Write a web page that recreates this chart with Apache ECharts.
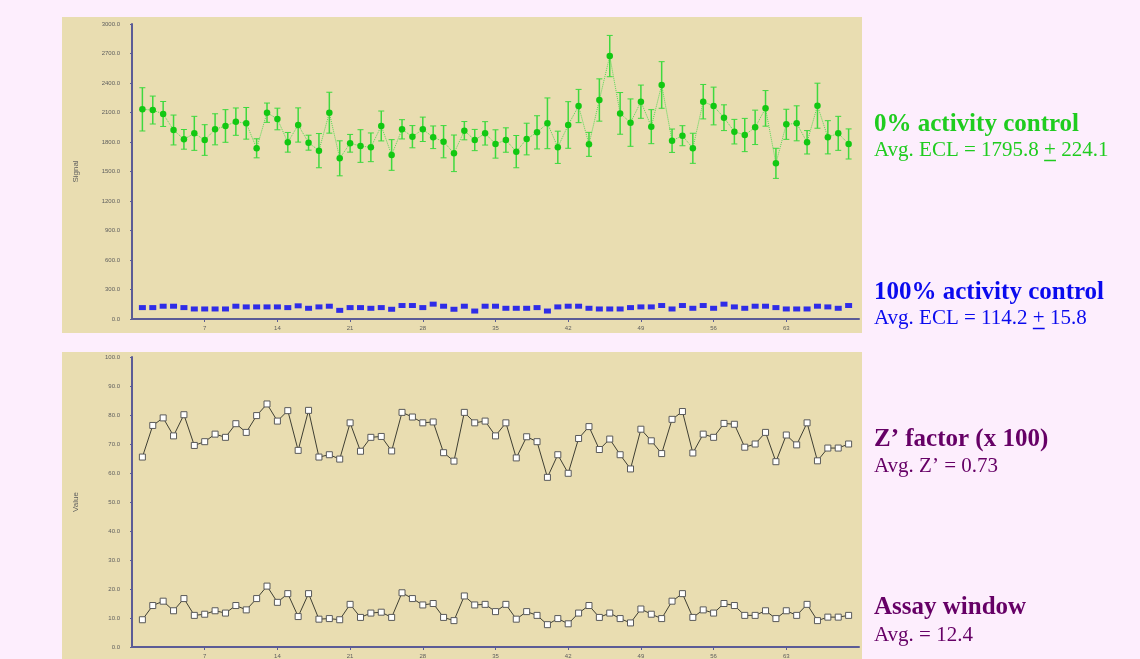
<!DOCTYPE html>
<html>
<head>
<meta charset="utf-8">
<script src="https://cdn.jsdelivr.net/npm/echarts@6/dist/echarts.min.js"></script>
<style>
html,body{margin:0;padding:0;background:#FDEEFD;}
#c{width:1140px;height:659px;}
</style>
</head>
<body>
<div id="c"></div>
<script>
// ---- data ----
var wells = [1,2,3,4,5,6,7,8,9,10,11,12,13,14,15,16,17,18,19,20,21,22,23,24,25,26,27,28,29,30,31,32,33,34,35,36,37,38,39,40,41,42,43,44,45,46,47,48,49,50,51,52,53,54,55,56,57,58,59,60,61,62,63,64,65,66,67,68,69];
var ctrl0 = [2132,2125,2085,1922,1827,1888,1820,1929,1963,2007,1990,1736,2098,2034,1797,1973,1793,1712,2098,1634,1787,1759,1746,1963,1668,1929,1854,1929,1848,1803,1685,1915,1820,1888,1780,1820,1702,1830,1898,1990,1746,1973,2166,1776,2227,2674,2091,1997,2210,1956,2380,1813,1864,1736,2210,2166,2047,1905,1871,1949,2142,1583,1980,1990,1797,2169,1848,1888,1780];
var ctrl0Err = [220,142,127,152,100,173,156,158,166,139,161,97,98,110,100,174,76,174,208,178,90,166,146,152,156,98,113,124,115,164,186,93,108,119,144,124,164,161,169,258,164,237,169,122,215,210,212,241,169,173,237,119,102,153,175,192,131,125,169,175,181,153,153,178,119,229,169,173,153];
var ctrl100 = [116,116,130,130,116,102,102,102,102,130,123,123,123,123,116,134,109,123,130,88,116,116,109,116,99,137,137,116,151,130,99,130,81,130,130,109,109,109,116,81,123,130,130,109,102,102,102,116,123,123,137,102,137,109,137,109,151,123,109,130,130,116,102,102,102,130,123,109,137];
var zFactor = [65.5,76.4,79.0,72.8,80.1,69.5,70.8,73.4,72.3,77.0,74.0,79.8,83.8,77.9,81.5,67.8,81.6,65.5,66.3,64.8,77.3,67.5,72.3,72.6,67.6,80.9,79.3,77.3,77.6,67.0,64.1,80.9,77.3,77.9,72.8,77.3,65.2,72.5,70.8,58.5,66.3,59.9,71.9,76.0,68.1,71.7,66.3,61.4,75.1,71.1,66.7,78.5,81.2,66.9,73.4,72.3,77.1,76.8,68.9,70.0,74.0,63.9,73.1,69.7,77.3,64.2,68.6,68.6,70.0];
var assayWindow = [9.4,14.3,15.8,12.5,16.7,10.9,11.3,12.5,11.7,14.3,12.8,16.7,21.0,15.4,18.4,10.5,18.4,9.6,9.8,9.4,14.7,10.2,11.7,12.0,10.2,18.7,16.7,14.5,15.0,10.2,9.1,17.6,14.5,14.7,12.2,14.7,9.6,12.2,10.9,7.7,9.8,8.0,11.7,14.3,10.2,11.7,9.8,8.3,13.1,11.3,9.8,15.8,18.4,10.2,12.8,11.7,15.0,14.3,10.9,10.9,12.5,9.8,12.5,10.9,14.7,9.1,10.3,10.3,10.9];
var xTicks = {min:0, max:70, interval:7};
var yTop = {min:0, max:3000, interval:300, name:'Signal'};
var yBottom = {min:0, max:100, interval:10, name:'Value'};
var labels = [
  {text:'0% activity control', bold:true, color:'#1FCC1F', y:125},
  {text:'Avg. ECL = 1795.8 + 224.1', bold:false, color:'#1FCC1F', y:150.5, ul:'Avg. ECL = 1795.8 '},
  {text:'100% activity control', bold:true, color:'#0A0AEE', y:293},
  {text:'Avg. ECL = 114.2 + 15.8', bold:false, color:'#0A0AEE', y:318.5, ul:'Avg. ECL = 114.2 '},
  {text:'Z\u2019 factor (x 100)', bold:true, color:'#660066', y:440},
  {text:'Avg. Z\u2019 = 0.73', bold:false, color:'#660066', y:466.5},
  {text:'Assay window', bold:true, color:'#660066', y:608},
  {text:'Avg. = 12.4', bold:false, color:'#660066', y:635.5}
];

// ---- build ----
function pairs(vals){ return vals.map(function(v,i){ return [wells[i], v]; }); }
var errData = ctrl0.map(function(v,i){ return [wells[i], v, ctrl0Err[i]]; });

var serif = '"Liberation Serif","Times New Roman",serif';
var axisColor = '#5B5B96';
var lblColor = '#5e5e5e';

function xAxisCfg(gi){
  return {type:'value', gridIndex:gi, min:xTicks.min, max:xTicks.max, interval:xTicks.interval,
    axisLine:{lineStyle:{color:axisColor, width:2}},
    axisTick:{length:3, lineStyle:{color:axisColor}},
    axisLabel:{fontSize:6, color:lblColor, margin:6, showMinLabel:false, showMaxLabel:false},
    splitLine:{show:false}};
}
function yAxisCfg(gi, c){
  return {type:'value', gridIndex:gi, min:c.min, max:c.max, interval:c.interval,
    name:c.name, nameLocation:'middle', nameGap:52, nameRotate:90,
    nameTextStyle:{fontSize:8, color:lblColor},
    axisLine:{show:true, lineStyle:{color:axisColor, width:2}},
    axisTick:{show:true, length:2, lineStyle:{color:axisColor}},
    axisLabel:{fontSize:6, color:lblColor, margin:12, formatter:function(v){return v.toFixed(1);}},
    splitLine:{show:false}};
}

var graphics = [
  {type:'rect', shape:{x:62, y:17, width:800, height:316}, style:{fill:'#E9DDB1'}, z:-10},
  {type:'rect', shape:{x:62, y:352, width:800, height:320}, style:{fill:'#E9DDB1'}, z:-10}
];
var mctx = document.createElement('canvas').getContext('2d');
labels.forEach(function(l){
  var font = (l.bold ? 'bold ' : '') + (l.bold ? 25 : 21) + 'px ' + serif;
  graphics.push({type:'text', x:874, y:l.y, style:{text:l.text, font:font, fill:l.color, verticalAlign:'middle', align:'left'}});
  if (l.ul){
    mctx.font = font;
    var x0 = 874 + mctx.measureText(l.ul).width;
    var w = mctx.measureText('+').width;
    graphics.push({type:'line', shape:{x1:x0, y1:l.y+10, x2:x0+w, y2:l.y+10}, style:{stroke:l.color, lineWidth:1.5}});
  }
});

var chart = echarts.init(document.getElementById('c'));
chart.setOption({
  backgroundColor:'#FDEEFD',
  animation:false,
  grid:[
    {left:132, top:24, width:727, height:295},
    {left:132, top:357, width:727, height:296}
  ],
  xAxis:[xAxisCfg(0), xAxisCfg(1)],
  yAxis:[yAxisCfg(0, yTop), yAxisCfg(1, yBottom)],
  graphic:graphics,
  series:[
    {type:'custom', xAxisIndex:0, yAxisIndex:0, data:errData, encode:{x:0, y:1}, z:2,
      renderItem:function(params, api){
        var x = api.value(0), v = api.value(1), e = api.value(2);
        var hi = api.coord([x, v + e]), lo = api.coord([x, v - e]);
        var c = '#3ED93E', w = 3;
        return {type:'group', children:[
          {type:'line', shape:{x1:hi[0], y1:hi[1], x2:lo[0], y2:lo[1]}, style:{stroke:c, lineWidth:1.5}},
          {type:'line', shape:{x1:hi[0]-w, y1:hi[1], x2:hi[0]+w, y2:hi[1]}, style:{stroke:c, lineWidth:1}},
          {type:'line', shape:{x1:lo[0]-w, y1:lo[1], x2:lo[0]+w, y2:lo[1]}, style:{stroke:c, lineWidth:1}}
        ]};
      }},
    {type:'line', xAxisIndex:0, yAxisIndex:0, data:pairs(ctrl0), z:3,
      symbol:'circle', symbolSize:6.5, itemStyle:{color:'#12C812'},
      lineStyle:{color:'#55D855', width:1, type:'dotted'}},
    {type:'scatter', xAxisIndex:0, yAxisIndex:0, data:pairs(ctrl100), z:3,
      symbol:'rect', symbolSize:[7,5], itemStyle:{color:'#0000F5'}},
    {type:'line', xAxisIndex:1, yAxisIndex:1, data:pairs(zFactor), z:3,
      symbol:'rect', symbolSize:6, showAllSymbol:true,
      itemStyle:{color:'#ffffff', borderColor:'#5a5a5a', borderWidth:1},
      lineStyle:{color:'#3f3f33', width:1}},
    {type:'line', xAxisIndex:1, yAxisIndex:1, data:pairs(assayWindow), z:3,
      symbol:'rect', symbolSize:6, showAllSymbol:true,
      itemStyle:{color:'#ffffff', borderColor:'#5a5a5a', borderWidth:1},
      lineStyle:{color:'#3f3f33', width:1}}
  ]
});
</script>
</body>
</html>
